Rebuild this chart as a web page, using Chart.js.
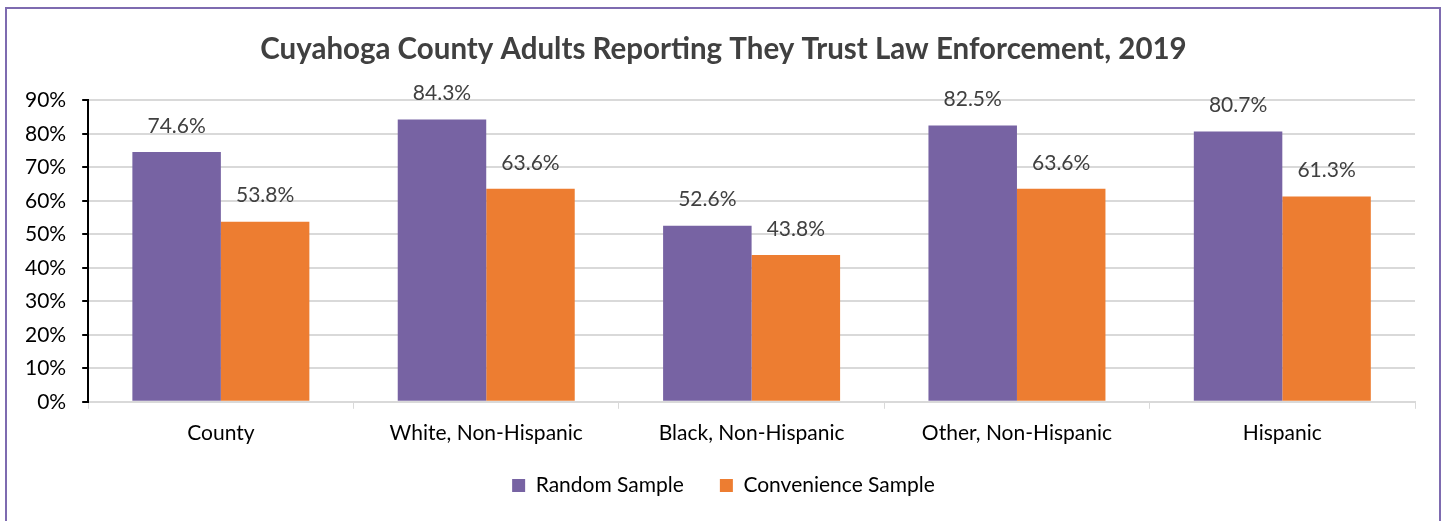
<!DOCTYPE html>
<html>
<head>
<meta charset="utf-8">
<script src="https://cdn.jsdelivr.net/npm/chart.js@4/dist/chart.umd.min.js"></script>
<style>
  html, body { margin: 0; padding: 0; background: #fff; }
  #wrap { position: relative; width: 1449px; height: 521px; overflow: hidden; }
  #frame { position: absolute; left: 5px; top: 7px; width: 1436px; height: 530px; border: 2px solid #7e6bb0; box-sizing: border-box; pointer-events: none; }
  canvas { position: absolute; left: 0; top: 0; }
</style>
</head>
<body>
<div id="wrap">
  <canvas id="chart" width="1449" height="521"></canvas>
  <div id="frame"></div>
</div>
<script>
'use strict';
// categories and the two survey series (percent)
var groups = ['County', 'White, Non-Hispanic', 'Black, Non-Hispanic', 'Other, Non-Hispanic', 'Hispanic'];
var randomSample = [74.6, 84.3, 52.6, 82.5, 80.7];
var convenienceSample = [53.8, 63.6, 43.8, 63.6, 61.3];
var yTicks = [0, 10, 20, 30, 40, 50, 60, 70, 80, 90];

var fontFam = 'Lato, "Open Sans", sans-serif';

// draws the value above every bar
var barLabels = {
  id: 'barLabels',
  afterDatasetsDraw: function(chart) {
    var ctx = chart.ctx;
    ctx.save();
    ctx.font = '21px ' + fontFam;
    ctx.fillStyle = '#404040';
    ctx.textAlign = 'center';
    ctx.textBaseline = 'middle';
    chart.data.datasets.forEach(function(ds, i) {
      chart.getDatasetMeta(i).data.forEach(function(bar, j) {
        ctx.fillText(ds.data[j].toFixed(1) + '%', bar.x, bar.y - 26);
      });
    });
    ctx.restore();
  }
};

// the axes were squeezed in afterFit; give the labels their room back so they are not clipped
var growAxes = {
  id: 'growAxes',
  afterLayout: function(chart) {
    var y = chart.scales.y, x = chart.scales.x;
    y.left -= 23; y.width += 23;
    x.bottom += 19; x.height += 19;
  }
};

var ctx = document.getElementById('chart').getContext('2d');
var chart = new Chart(ctx, {
  type: 'bar',
  data: {
    labels: groups,
    datasets: [{
      label: 'Random Sample',
      data: randomSample,
      backgroundColor: '#7763a3'
    }, {
      label: 'Convenience Sample',
      data: convenienceSample,
      backgroundColor: '#ed7d31'
    }]
  },
  options: {
    responsive: false,
    animation: false,
    layout: { padding: { left: 32, right: 34, top: 32, bottom: 15 } },
    datasets: { bar: { categoryPercentage: 0.667, barPercentage: 1 } },
    plugins: {
      title: {
        display: true,
        text: 'Cuyahoga County Adults Reporting They Trust Law Enforcement, 2019',
        color: '#404040',
        font: { family: fontFam, size: 29.5, weight: 'bold' },
        padding: { top: 0, bottom: 33 }
      },
      legend: {
        position: 'bottom',
        labels: {
          boxWidth: 13, boxHeight: 13, padding: 36,
          color: '#000',
          font: { family: fontFam, size: 21 }
        }
      },
      tooltip: { enabled: false }
    },
    scales: {
      x: {
        afterFit: function(axis) { axis.height -= 19; },
        grid: { offset: true, drawOnChartArea: false, drawTicks: true, tickLength: 7, color: '#d9d9d9' },
        border: { color: '#d9d9d9', width: 2 },
        ticks: { color: '#000', padding: 12, font: { family: fontFam, size: 21 } }
      },
      y: {
        min: 0, max: 90,
        afterFit: function(axis) { axis.width -= 23; },
        afterBuildTicks: function(axis) { axis.ticks = yTicks.map(function(v) { return { value: v }; }); },
        grid: { color: '#d9d9d9', lineWidth: 2, tickLength: 6, tickColor: '#000' },
        border: { color: '#000', width: 2 },
        ticks: {
          color: '#000', padding: 16,
          font: { family: fontFam, size: 21 },
          callback: function(v) { return v + '%'; }
        }
      }
    }
  },
  plugins: [barLabels, growAxes]
});
</script>
</body>
</html>
